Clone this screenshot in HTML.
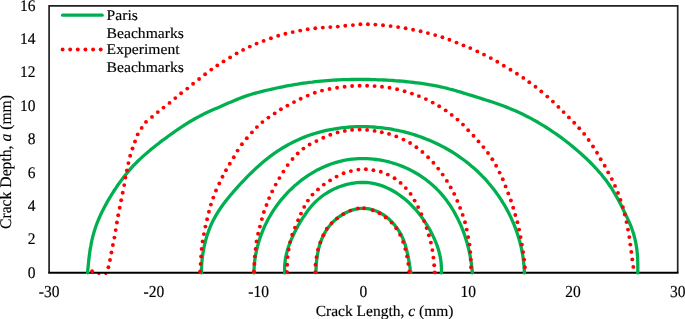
<!DOCTYPE html>
<html><head><meta charset="utf-8"><title>Crack beachmarks</title>
<style>
html,body{margin:0;padding:0;background:#fff;}
body{width:685px;height:319px;overflow:hidden;}
svg{display:block;}
text{font-family:"Liberation Serif","Times New Roman",serif;font-size:15.5px;fill:#000;stroke:#000;stroke-width:0.15px;text-rendering:geometricPrecision;}
</style></head><body>
<svg width="685" height="319" viewBox="0 0 685 319">
<rect width="685" height="319" fill="#fff"/>
<g fill="#ff0000">
<circle cx="98.9" cy="273.4" r="1.5"/>
<circle cx="105.8" cy="273.4" r="1.5"/>
</g>
<g fill="none" stroke="#222" stroke-width="1.6">
<path d="M49.1,272.85 L49.1,5.95 L677.7,5.95 L677.7,272.85" stroke-width="1.7"/>
<path d="M48.25,272.85 L678.5,272.85" stroke="#000" stroke-width="2.0"/>
</g>
<g fill="none" stroke="#00b050" stroke-width="3.3" stroke-linecap="round" stroke-linejoin="round">
<path d="M87.6,272.9 L87.8,269.9 L88.1,266.9 L88.4,264.0 L88.7,261.0 L89.0,258.0 L89.4,255.0 L89.8,252.0 L90.2,249.1 L90.8,246.1 L91.3,243.2 L91.9,240.2 L92.6,237.3 L93.4,234.4 L94.2,231.5 L95.1,228.7 L96.1,225.8 L97.1,223.0 L98.2,220.3 L99.4,217.5 L100.6,214.8 L101.9,212.1 L103.3,209.4 L104.6,206.8 L106.1,204.1 L107.5,201.5 L109.0,198.9 L110.6,196.4 L112.1,193.8 L113.7,191.3 L115.4,188.8 L117.0,186.3 L118.8,183.8 L120.5,181.4 L122.3,179.0 L124.1,176.6 L126.0,174.3 L127.9,172.0 L129.8,169.7 L131.8,167.4 L133.8,165.2 L135.9,163.1 L138.0,161.0 L140.2,158.9 L142.4,156.9 L144.6,154.9 L146.9,152.9 L149.2,151.0 L151.5,149.0 L153.8,147.2 L156.2,145.3 L158.6,143.5 L160.9,141.6 L163.3,139.8 L165.8,138.1 L168.2,136.3 L170.6,134.5 L173.0,132.8 L175.5,131.0 L178.0,129.3 L180.5,127.7 L183.0,126.0 L185.5,124.4 L188.0,122.8 L190.6,121.3 L193.2,119.8 L195.8,118.3 L198.4,116.9 L201.0,115.5 L203.7,114.1 L206.4,112.8 L209.1,111.5 L211.8,110.3 L214.6,109.1 L217.3,107.9 L220.1,106.7 L222.8,105.5 L225.6,104.3 L228.3,103.1 L231.1,101.9 L233.9,100.7 L236.6,99.6 L239.4,98.5 L242.2,97.4 L245.0,96.4 L247.8,95.4 L250.7,94.5 L253.5,93.7 L256.4,92.9 L259.3,92.2 L262.2,91.4 L265.1,90.7 L268.0,90.0 L271.0,89.3 L273.9,88.7 L276.8,88.0 L279.8,87.4 L282.7,86.8 L285.6,86.2 L288.6,85.7 L291.5,85.2 L294.5,84.6 L297.5,84.2 L300.4,83.7 L303.4,83.2 L306.4,82.8 L309.3,82.4 L312.3,82.1 L315.3,81.7 L318.3,81.4 L321.2,81.1 L324.2,80.8 L327.2,80.6 L330.2,80.4 L333.2,80.2 L336.2,80.0 L339.2,79.9 L342.2,79.7 L345.2,79.6 L348.1,79.6 L351.1,79.5 L354.1,79.5 L357.1,79.4 L360.1,79.4 L363.1,79.5 L366.1,79.5 L369.1,79.5 L372.1,79.6 L375.1,79.7 L378.1,79.8 L381.1,79.9 L384.1,80.0 L387.1,80.2 L390.1,80.4 L393.1,80.5 L396.1,80.8 L399.1,81.0 L402.1,81.2 L405.1,81.5 L408.0,81.8 L411.0,82.1 L414.0,82.5 L417.0,82.8 L419.9,83.2 L422.9,83.6 L425.9,84.1 L428.8,84.6 L431.8,85.1 L434.7,85.6 L437.6,86.2 L440.6,86.8 L443.5,87.5 L446.4,88.2 L449.3,89.0 L452.2,89.7 L455.1,90.5 L457.9,91.4 L460.8,92.2 L463.7,93.1 L466.6,94.0 L469.4,94.9 L472.3,95.7 L475.2,96.6 L478.1,97.5 L480.9,98.4 L483.8,99.3 L486.6,100.2 L489.5,101.1 L492.3,102.0 L495.2,103.0 L498.0,104.0 L500.8,105.0 L503.6,106.0 L506.4,107.1 L509.2,108.2 L512.0,109.4 L514.7,110.5 L517.5,111.8 L520.2,113.0 L522.9,114.3 L525.6,115.7 L528.2,117.0 L530.9,118.4 L533.5,119.9 L536.1,121.3 L538.7,122.8 L541.3,124.4 L543.9,125.9 L546.4,127.5 L549.0,129.1 L551.5,130.8 L553.9,132.5 L556.4,134.2 L558.8,135.9 L561.3,137.7 L563.7,139.5 L566.0,141.3 L568.4,143.1 L570.7,145.0 L573.1,146.9 L575.3,148.8 L577.6,150.8 L579.9,152.7 L582.1,154.7 L584.3,156.8 L586.5,158.8 L588.7,160.9 L590.8,163.0 L592.9,165.2 L595.0,167.3 L597.0,169.5 L599.0,171.8 L601.0,174.0 L602.9,176.4 L604.8,178.7 L606.6,181.1 L608.3,183.5 L610.0,186.0 L611.7,188.4 L613.2,191.0 L614.8,193.6 L616.3,196.2 L617.7,198.8 L619.1,201.4 L620.5,204.1 L621.9,206.8 L623.2,209.5 L624.5,212.2 L625.8,214.9 L627.1,217.6 L628.4,220.4 L629.6,223.1 L630.8,225.9 L631.8,228.7 L632.8,231.5 L633.7,234.3 L634.5,237.2 L635.2,240.1 L635.8,243.0 L636.3,246.0 L636.8,248.9 L637.1,251.9 L637.4,254.9 L637.6,257.9 L637.7,260.9 L637.8,263.9 L637.8,266.9 L637.8,269.9 L637.8,272.9"/>
<path d="M201.4,272.9 L201.4,269.9 L201.6,266.9 L201.7,263.9 L202.0,260.9 L202.3,257.9 L202.7,254.9 L203.2,252.0 L203.7,249.0 L204.3,246.0 L205.0,243.1 L205.7,240.2 L206.5,237.3 L207.4,234.5 L208.4,231.7 L209.4,228.9 L210.5,226.1 L211.7,223.4 L213.0,220.8 L214.4,218.2 L215.8,215.6 L217.3,213.1 L218.9,210.6 L220.5,208.2 L222.2,205.8 L223.9,203.4 L225.7,201.1 L227.6,198.8 L229.4,196.5 L231.4,194.2 L233.3,191.9 L235.3,189.7 L237.3,187.4 L239.3,185.2 L241.3,183.0 L243.4,180.8 L245.5,178.6 L247.6,176.4 L249.7,174.3 L251.9,172.2 L254.1,170.1 L256.3,168.0 L258.6,166.0 L260.8,164.0 L263.1,162.1 L265.5,160.1 L267.8,158.3 L270.2,156.4 L272.6,154.6 L275.0,152.9 L277.5,151.2 L280.0,149.6 L282.5,148.0 L285.1,146.5 L287.7,145.0 L290.3,143.6 L292.9,142.2 L295.6,140.9 L298.3,139.7 L301.0,138.5 L303.7,137.4 L306.5,136.3 L309.2,135.3 L312.0,134.4 L314.9,133.5 L317.7,132.6 L320.6,131.8 L323.4,131.1 L326.3,130.4 L329.2,129.8 L332.1,129.3 L335.0,128.8 L338.0,128.3 L340.9,127.9 L343.9,127.6 L346.8,127.3 L349.8,127.0 L352.8,126.8 L355.8,126.7 L358.7,126.6 L361.7,126.6 L364.7,126.6 L367.7,126.7 L370.7,126.8 L373.7,127.0 L376.7,127.3 L379.6,127.6 L382.6,127.9 L385.6,128.3 L388.5,128.7 L391.5,129.2 L394.4,129.8 L397.4,130.3 L400.3,131.0 L403.2,131.7 L406.1,132.4 L409.0,133.2 L411.9,134.0 L414.8,134.9 L417.6,135.9 L420.4,136.8 L423.2,137.9 L426.0,139.0 L428.8,140.1 L431.6,141.3 L434.3,142.5 L437.0,143.8 L439.7,145.1 L442.3,146.4 L444.9,147.8 L447.5,149.3 L450.1,150.8 L452.7,152.3 L455.2,153.9 L457.7,155.6 L460.1,157.3 L462.5,159.0 L464.9,160.8 L467.3,162.6 L469.6,164.5 L471.9,166.4 L474.1,168.3 L476.3,170.3 L478.5,172.3 L480.6,174.4 L482.7,176.6 L484.8,178.7 L486.8,180.9 L488.7,183.2 L490.6,185.4 L492.5,187.8 L494.3,190.1 L496.1,192.5 L497.8,194.9 L499.5,197.4 L501.2,199.9 L502.7,202.4 L504.3,204.9 L505.8,207.5 L507.2,210.1 L508.6,212.7 L509.9,215.4 L511.2,218.1 L512.4,220.8 L513.6,223.5 L514.7,226.3 L515.8,229.1 L516.8,231.9 L517.7,234.7 L518.6,237.6 L519.4,240.4 L520.2,243.3 L520.9,246.2 L521.6,249.1 L522.1,252.0 L522.7,255.0 L523.1,257.9 L523.5,260.9 L523.8,263.9 L524.1,266.9 L524.3,269.9 L524.4,272.9"/>
<path d="M253.9,272.9 L254.0,269.9 L254.2,266.9 L254.4,264.0 L254.7,261.0 L255.1,258.1 L255.6,255.1 L256.2,252.2 L256.8,249.3 L257.5,246.4 L258.3,243.6 L259.1,240.7 L260.0,237.9 L261.0,235.1 L262.1,232.3 L263.2,229.6 L264.4,226.8 L265.7,224.1 L267.0,221.5 L268.4,218.8 L269.9,216.2 L271.4,213.7 L273.0,211.1 L274.6,208.6 L276.3,206.2 L278.1,203.8 L279.9,201.4 L281.8,199.1 L283.8,196.8 L285.8,194.6 L287.8,192.4 L290.0,190.2 L292.1,188.2 L294.3,186.1 L296.6,184.2 L298.9,182.2 L301.2,180.4 L303.6,178.6 L306.1,176.9 L308.6,175.2 L311.1,173.6 L313.6,172.1 L316.2,170.6 L318.9,169.3 L321.5,168.0 L324.2,166.7 L326.9,165.6 L329.7,164.5 L332.5,163.5 L335.3,162.6 L338.1,161.8 L341.0,161.1 L343.9,160.4 L346.7,159.9 L349.7,159.4 L352.6,159.1 L355.5,158.8 L358.5,158.6 L361.5,158.6 L364.4,158.6 L367.4,158.7 L370.4,158.8 L373.3,159.1 L376.3,159.5 L379.3,159.9 L382.2,160.4 L385.1,161.0 L388.1,161.7 L391.0,162.5 L393.8,163.3 L396.7,164.3 L399.5,165.3 L402.3,166.4 L405.1,167.5 L407.8,168.8 L410.5,170.1 L413.2,171.5 L415.8,173.0 L418.4,174.5 L420.9,176.1 L423.4,177.8 L425.8,179.5 L428.1,181.4 L430.4,183.2 L432.7,185.2 L434.9,187.2 L437.0,189.3 L439.1,191.4 L441.1,193.6 L443.0,195.9 L444.9,198.2 L446.7,200.6 L448.4,203.0 L450.1,205.4 L451.7,207.9 L453.3,210.5 L454.8,213.1 L456.2,215.7 L457.6,218.4 L458.9,221.1 L460.2,223.8 L461.4,226.5 L462.5,229.3 L463.6,232.1 L464.6,235.0 L465.5,237.8 L466.4,240.7 L467.3,243.6 L468.0,246.5 L468.8,249.4 L469.4,252.3 L470.0,255.3 L470.5,258.2 L471.0,261.2 L471.4,264.1 L471.8,267.0 L472.1,270.0 L472.3,272.9"/>
<path d="M284.7,272.9 L284.6,269.8 L284.6,266.8 L284.8,263.8 L285.2,260.8 L285.6,257.9 L286.2,255.0 L286.9,252.1 L287.7,249.3 L288.6,246.5 L289.6,243.7 L290.7,240.9 L291.9,238.2 L293.1,235.5 L294.4,232.8 L295.8,230.1 L297.2,227.4 L298.6,224.8 L300.2,222.2 L301.7,219.7 L303.3,217.2 L305.0,214.7 L306.7,212.2 L308.5,209.8 L310.3,207.5 L312.3,205.2 L314.3,203.0 L316.5,200.9 L318.7,198.9 L321.0,197.0 L323.4,195.2 L325.9,193.6 L328.5,192.0 L331.1,190.5 L333.8,189.1 L336.6,187.9 L339.4,186.8 L342.2,185.8 L345.1,184.9 L348.0,184.2 L350.9,183.5 L353.8,183.1 L356.8,182.7 L359.7,182.5 L362.7,182.4 L365.6,182.5 L368.6,182.7 L371.5,183.1 L374.4,183.7 L377.2,184.3 L380.1,185.2 L382.9,186.1 L385.6,187.2 L388.3,188.5 L391.0,189.8 L393.6,191.3 L396.2,192.8 L398.7,194.5 L401.2,196.3 L403.6,198.1 L405.9,200.0 L408.2,202.0 L410.4,204.1 L412.5,206.3 L414.6,208.5 L416.6,210.7 L418.5,213.0 L420.3,215.3 L422.1,217.7 L423.7,220.1 L425.4,222.6 L427.0,225.1 L428.5,227.6 L430.0,230.1 L431.4,232.7 L432.7,235.4 L434.0,238.1 L435.2,240.8 L436.3,243.5 L437.4,246.4 L438.3,249.2 L439.1,252.1 L439.8,255.0 L440.4,257.9 L440.9,260.9 L441.2,263.9 L441.4,266.9 L441.5,269.9 L441.4,272.9"/>
<path d="M316.0,272.5 L316.0,269.6 L316.2,266.7 L316.3,263.7 L316.6,260.8 L317.0,257.8 L317.4,254.8 L318.0,251.8 L318.6,248.9 L319.4,245.9 L320.3,243.1 L321.3,240.2 L322.5,237.4 L323.8,234.7 L325.2,232.1 L326.8,229.5 L328.6,227.0 L330.5,224.7 L332.6,222.4 L334.8,220.3 L337.1,218.3 L339.5,216.5 L342.1,214.8 L344.7,213.3 L347.3,212.0 L350.1,210.8 L352.9,209.9 L355.7,209.1 L358.5,208.6 L361.4,208.4 L364.2,208.3 L367.1,208.6 L369.9,209.0 L372.6,209.8 L375.4,210.7 L378.0,211.8 L380.6,213.2 L383.2,214.7 L385.6,216.4 L388.0,218.3 L390.2,220.3 L392.4,222.5 L394.4,224.8 L396.3,227.2 L398.1,229.7 L399.7,232.3 L401.2,234.9 L402.5,237.7 L403.7,240.5 L404.7,243.3 L405.6,246.2 L406.4,249.1 L407.1,252.1 L407.8,255.0 L408.4,258.0 L408.9,260.9 L409.4,263.9 L409.9,266.8 L410.3,269.7 L410.8,272.5"/>
</g>
<g fill="#ff0000">
<circle cx="92.1" cy="271.2" r="1.95"/>
<circle cx="108.4" cy="267.3" r="1.95"/>
<circle cx="110.0" cy="260.0" r="1.95"/>
<circle cx="111.4" cy="252.5" r="1.95"/>
<circle cx="112.9" cy="245.0" r="1.95"/>
<circle cx="114.4" cy="237.6" r="1.95"/>
<circle cx="115.7" cy="230.1" r="1.95"/>
<circle cx="116.9" cy="222.5" r="1.95"/>
<circle cx="118.2" cy="215.3" r="1.95"/>
<circle cx="119.7" cy="207.8" r="1.95"/>
<circle cx="121.2" cy="200.3" r="1.95"/>
<circle cx="122.7" cy="192.7" r="1.95"/>
<circle cx="124.2" cy="185.1" r="1.95"/>
<circle cx="125.4" cy="177.6" r="1.95"/>
<circle cx="126.9" cy="170.4" r="1.95"/>
<circle cx="128.4" cy="163.1" r="1.95"/>
<circle cx="130.2" cy="155.8" r="1.95"/>
<circle cx="132.5" cy="148.5" r="1.95"/>
<circle cx="135.0" cy="141.5" r="1.95"/>
<circle cx="137.7" cy="134.4" r="1.95"/>
<circle cx="141.7" cy="127.9" r="1.95"/>
<circle cx="146.0" cy="121.9" r="1.95"/>
<circle cx="152.0" cy="116.9" r="1.95"/>
<circle cx="157.8" cy="112.1" r="1.95"/>
<circle cx="163.5" cy="107.6" r="1.95"/>
<circle cx="169.5" cy="102.9" r="1.95"/>
<circle cx="175.3" cy="98.1" r="1.95"/>
<circle cx="181.1" cy="93.3" r="1.95"/>
<circle cx="187.3" cy="88.6" r="1.95"/>
<circle cx="193.1" cy="83.8" r="1.95"/>
<circle cx="199.1" cy="79.0" r="1.95"/>
<circle cx="205.1" cy="74.3" r="1.95"/>
<circle cx="211.3" cy="69.6" r="1.95"/>
<circle cx="217.3" cy="65.4" r="1.95"/>
<circle cx="223.5" cy="61.4" r="1.95"/>
<circle cx="230.1" cy="57.4" r="1.95"/>
<circle cx="236.6" cy="53.4" r="1.95"/>
<circle cx="243.1" cy="49.9" r="1.95"/>
<circle cx="249.8" cy="46.6" r="1.95"/>
<circle cx="256.6" cy="43.6" r="1.95"/>
<circle cx="263.6" cy="40.9" r="1.95"/>
<circle cx="270.9" cy="38.3" r="1.95"/>
<circle cx="278.2" cy="35.8" r="1.95"/>
<circle cx="285.4" cy="33.8" r="1.95"/>
<circle cx="292.7" cy="32.1" r="1.95"/>
<circle cx="300.2" cy="30.6" r="1.95"/>
<circle cx="307.7" cy="29.3" r="1.95"/>
<circle cx="315.3" cy="28.3" r="1.95"/>
<circle cx="322.8" cy="27.6" r="1.95"/>
<circle cx="330.3" cy="27.1" r="1.95"/>
<circle cx="337.8" cy="26.6" r="1.95"/>
<circle cx="345.3" cy="25.8" r="1.95"/>
<circle cx="352.9" cy="25.1" r="1.95"/>
<circle cx="360.4" cy="24.3" r="1.95"/>
<circle cx="367.9" cy="24.3" r="1.95"/>
<circle cx="375.4" cy="24.6" r="1.95"/>
<circle cx="383.0" cy="25.3" r="1.95"/>
<circle cx="390.6" cy="26.1" r="1.95"/>
<circle cx="398.1" cy="27.1" r="1.95"/>
<circle cx="405.6" cy="28.3" r="1.95"/>
<circle cx="413.1" cy="29.8" r="1.95"/>
<circle cx="420.6" cy="31.3" r="1.95"/>
<circle cx="427.9" cy="33.1" r="1.95"/>
<circle cx="435.2" cy="35.1" r="1.95"/>
<circle cx="442.4" cy="37.3" r="1.95"/>
<circle cx="449.4" cy="39.8" r="1.95"/>
<circle cx="456.5" cy="42.6" r="1.95"/>
<circle cx="463.5" cy="45.4" r="1.95"/>
<circle cx="470.3" cy="48.1" r="1.95"/>
<circle cx="477.3" cy="51.4" r="1.95"/>
<circle cx="484.0" cy="54.6" r="1.95"/>
<circle cx="490.8" cy="58.1" r="1.95"/>
<circle cx="497.3" cy="61.7" r="1.95"/>
<circle cx="503.8" cy="65.7" r="1.95"/>
<circle cx="510.5" cy="69.7" r="1.95"/>
<circle cx="516.9" cy="73.7" r="1.95"/>
<circle cx="523.3" cy="77.9" r="1.95"/>
<circle cx="529.3" cy="82.2" r="1.95"/>
<circle cx="535.5" cy="86.8" r="1.95"/>
<circle cx="541.3" cy="91.5" r="1.95"/>
<circle cx="547.3" cy="96.6" r="1.95"/>
<circle cx="552.9" cy="101.6" r="1.95"/>
<circle cx="558.4" cy="106.9" r="1.95"/>
<circle cx="563.6" cy="112.1" r="1.95"/>
<circle cx="568.9" cy="117.4" r="1.95"/>
<circle cx="574.2" cy="122.7" r="1.95"/>
<circle cx="579.2" cy="128.2" r="1.95"/>
<circle cx="584.2" cy="133.9" r="1.95"/>
<circle cx="588.7" cy="140.0" r="1.95"/>
<circle cx="593.0" cy="146.5" r="1.95"/>
<circle cx="597.0" cy="152.8" r="1.95"/>
<circle cx="600.7" cy="159.3" r="1.95"/>
<circle cx="604.7" cy="165.8" r="1.95"/>
<circle cx="608.2" cy="172.4" r="1.95"/>
<circle cx="611.8" cy="179.1" r="1.95"/>
<circle cx="615.0" cy="185.9" r="1.95"/>
<circle cx="618.0" cy="192.9" r="1.95"/>
<circle cx="620.5" cy="199.9" r="1.95"/>
<circle cx="622.9" cy="207.1" r="1.95"/>
<circle cx="624.8" cy="214.5" r="1.95"/>
<circle cx="626.5" cy="222.1" r="1.95"/>
<circle cx="628.0" cy="229.6" r="1.95"/>
<circle cx="629.3" cy="237.1" r="1.95"/>
<circle cx="630.3" cy="244.6" r="1.95"/>
<circle cx="631.3" cy="251.9" r="1.95"/>
<circle cx="632.3" cy="259.4" r="1.95"/>
<circle cx="633.3" cy="266.9" r="1.95"/>
<circle cx="200.1" cy="271.4" r="1.95"/>
<circle cx="200.6" cy="263.9" r="1.95"/>
<circle cx="201.1" cy="256.4" r="1.95"/>
<circle cx="201.6" cy="248.9" r="1.95"/>
<circle cx="202.6" cy="241.4" r="1.95"/>
<circle cx="203.9" cy="234.1" r="1.95"/>
<circle cx="205.4" cy="226.6" r="1.95"/>
<circle cx="207.1" cy="219.3" r="1.95"/>
<circle cx="208.9" cy="211.8" r="1.95"/>
<circle cx="210.9" cy="204.6" r="1.95"/>
<circle cx="213.3" cy="197.6" r="1.95"/>
<circle cx="216.0" cy="190.5" r="1.95"/>
<circle cx="219.3" cy="183.5" r="1.95"/>
<circle cx="222.5" cy="176.7" r="1.95"/>
<circle cx="226.0" cy="170.3" r="1.95"/>
<circle cx="229.8" cy="163.8" r="1.95"/>
<circle cx="233.8" cy="157.3" r="1.95"/>
<circle cx="237.6" cy="150.6" r="1.95"/>
<circle cx="241.9" cy="144.3" r="1.95"/>
<circle cx="246.8" cy="138.2" r="1.95"/>
<circle cx="251.9" cy="132.4" r="1.95"/>
<circle cx="256.9" cy="127.1" r="1.95"/>
<circle cx="262.4" cy="122.1" r="1.95"/>
<circle cx="268.4" cy="117.6" r="1.95"/>
<circle cx="274.7" cy="113.4" r="1.95"/>
<circle cx="280.9" cy="109.3" r="1.95"/>
<circle cx="287.4" cy="105.6" r="1.95"/>
<circle cx="294.0" cy="102.1" r="1.95"/>
<circle cx="300.7" cy="98.8" r="1.95"/>
<circle cx="307.7" cy="95.6" r="1.95"/>
<circle cx="314.8" cy="92.8" r="1.95"/>
<circle cx="322.0" cy="90.6" r="1.95"/>
<circle cx="329.5" cy="89.0" r="1.95"/>
<circle cx="337.1" cy="87.8" r="1.95"/>
<circle cx="344.6" cy="86.8" r="1.95"/>
<circle cx="352.1" cy="86.0" r="1.95"/>
<circle cx="359.6" cy="85.8" r="1.95"/>
<circle cx="367.1" cy="85.8" r="1.95"/>
<circle cx="374.6" cy="86.1" r="1.95"/>
<circle cx="382.0" cy="86.8" r="1.95"/>
<circle cx="389.5" cy="87.8" r="1.95"/>
<circle cx="397.1" cy="89.3" r="1.95"/>
<circle cx="404.6" cy="91.3" r="1.95"/>
<circle cx="411.9" cy="93.6" r="1.95"/>
<circle cx="418.9" cy="96.1" r="1.95"/>
<circle cx="425.9" cy="99.1" r="1.95"/>
<circle cx="432.7" cy="102.6" r="1.95"/>
<circle cx="439.2" cy="106.3" r="1.95"/>
<circle cx="445.7" cy="110.4" r="1.95"/>
<circle cx="451.7" cy="114.9" r="1.95"/>
<circle cx="457.5" cy="119.6" r="1.95"/>
<circle cx="463.0" cy="124.6" r="1.95"/>
<circle cx="468.2" cy="130.2" r="1.95"/>
<circle cx="473.5" cy="135.7" r="1.95"/>
<circle cx="478.5" cy="141.4" r="1.95"/>
<circle cx="483.4" cy="147.1" r="1.95"/>
<circle cx="488.0" cy="153.0" r="1.95"/>
<circle cx="492.3" cy="159.3" r="1.95"/>
<circle cx="496.1" cy="165.8" r="1.95"/>
<circle cx="499.6" cy="172.6" r="1.95"/>
<circle cx="502.8" cy="179.3" r="1.95"/>
<circle cx="505.6" cy="186.4" r="1.95"/>
<circle cx="508.3" cy="193.4" r="1.95"/>
<circle cx="510.9" cy="200.5" r="1.95"/>
<circle cx="513.2" cy="207.7" r="1.95"/>
<circle cx="515.3" cy="215.0" r="1.95"/>
<circle cx="517.4" cy="222.3" r="1.95"/>
<circle cx="519.1" cy="229.6" r="1.95"/>
<circle cx="520.6" cy="237.1" r="1.95"/>
<circle cx="521.9" cy="244.6" r="1.95"/>
<circle cx="523.1" cy="252.1" r="1.95"/>
<circle cx="524.1" cy="259.6" r="1.95"/>
<circle cx="524.9" cy="267.2" r="1.95"/>
<circle cx="253.9" cy="271.4" r="1.95"/>
<circle cx="254.4" cy="263.9" r="1.95"/>
<circle cx="254.9" cy="256.4" r="1.95"/>
<circle cx="255.6" cy="248.9" r="1.95"/>
<circle cx="256.6" cy="241.4" r="1.95"/>
<circle cx="258.1" cy="233.8" r="1.95"/>
<circle cx="259.9" cy="226.6" r="1.95"/>
<circle cx="261.9" cy="219.1" r="1.95"/>
<circle cx="263.9" cy="212.0" r="1.95"/>
<circle cx="266.5" cy="205.0" r="1.95"/>
<circle cx="269.1" cy="198.1" r="1.95"/>
<circle cx="272.2" cy="191.4" r="1.95"/>
<circle cx="275.7" cy="184.6" r="1.95"/>
<circle cx="279.4" cy="178.1" r="1.95"/>
<circle cx="283.4" cy="171.6" r="1.95"/>
<circle cx="287.7" cy="165.1" r="1.95"/>
<circle cx="292.5" cy="159.0" r="1.95"/>
<circle cx="297.7" cy="153.5" r="1.95"/>
<circle cx="303.4" cy="148.6" r="1.95"/>
<circle cx="309.6" cy="144.5" r="1.95"/>
<circle cx="316.4" cy="141.1" r="1.95"/>
<circle cx="323.3" cy="137.7" r="1.95"/>
<circle cx="330.3" cy="134.7" r="1.95"/>
<circle cx="337.6" cy="132.4" r="1.95"/>
<circle cx="344.8" cy="130.9" r="1.95"/>
<circle cx="352.1" cy="129.9" r="1.95"/>
<circle cx="359.6" cy="129.6" r="1.95"/>
<circle cx="367.1" cy="129.9" r="1.95"/>
<circle cx="374.6" cy="130.9" r="1.95"/>
<circle cx="381.8" cy="132.2" r="1.95"/>
<circle cx="389.0" cy="133.9" r="1.95"/>
<circle cx="396.3" cy="136.4" r="1.95"/>
<circle cx="403.5" cy="139.6" r="1.95"/>
<circle cx="410.1" cy="143.0" r="1.95"/>
<circle cx="416.4" cy="147.3" r="1.95"/>
<circle cx="422.4" cy="152.0" r="1.95"/>
<circle cx="428.1" cy="157.3" r="1.95"/>
<circle cx="433.4" cy="162.8" r="1.95"/>
<circle cx="438.2" cy="168.6" r="1.95"/>
<circle cx="442.7" cy="174.6" r="1.95"/>
<circle cx="446.9" cy="180.9" r="1.95"/>
<circle cx="450.7" cy="187.4" r="1.95"/>
<circle cx="454.2" cy="193.9" r="1.95"/>
<circle cx="457.3" cy="200.9" r="1.95"/>
<circle cx="460.1" cy="207.9" r="1.95"/>
<circle cx="462.7" cy="214.9" r="1.95"/>
<circle cx="465.0" cy="222.3" r="1.95"/>
<circle cx="466.7" cy="229.6" r="1.95"/>
<circle cx="468.2" cy="237.1" r="1.95"/>
<circle cx="469.5" cy="244.6" r="1.95"/>
<circle cx="470.3" cy="252.1" r="1.95"/>
<circle cx="470.8" cy="259.6" r="1.95"/>
<circle cx="471.0" cy="267.2" r="1.95"/>
<circle cx="286.9" cy="271.9" r="1.95"/>
<circle cx="287.2" cy="264.7" r="1.95"/>
<circle cx="287.7" cy="257.1" r="1.95"/>
<circle cx="288.7" cy="249.6" r="1.95"/>
<circle cx="290.2" cy="242.1" r="1.95"/>
<circle cx="292.2" cy="234.8" r="1.95"/>
<circle cx="295.0" cy="227.6" r="1.95"/>
<circle cx="298.1" cy="220.3" r="1.95"/>
<circle cx="301.0" cy="213.6" r="1.95"/>
<circle cx="304.2" cy="206.9" r="1.95"/>
<circle cx="307.9" cy="200.6" r="1.95"/>
<circle cx="312.5" cy="194.6" r="1.95"/>
<circle cx="318.0" cy="189.4" r="1.95"/>
<circle cx="323.8" cy="184.6" r="1.95"/>
<circle cx="330.1" cy="180.4" r="1.95"/>
<circle cx="336.6" cy="176.6" r="1.95"/>
<circle cx="343.6" cy="173.3" r="1.95"/>
<circle cx="350.9" cy="171.1" r="1.95"/>
<circle cx="358.4" cy="169.6" r="1.95"/>
<circle cx="365.9" cy="169.3" r="1.95"/>
<circle cx="373.4" cy="170.3" r="1.95"/>
<circle cx="380.8" cy="171.8" r="1.95"/>
<circle cx="387.8" cy="174.6" r="1.95"/>
<circle cx="394.6" cy="178.3" r="1.95"/>
<circle cx="400.6" cy="182.9" r="1.95"/>
<circle cx="405.8" cy="188.1" r="1.95"/>
<circle cx="410.6" cy="193.9" r="1.95"/>
<circle cx="414.6" cy="200.6" r="1.95"/>
<circle cx="418.1" cy="207.1" r="1.95"/>
<circle cx="421.4" cy="214.1" r="1.95"/>
<circle cx="424.1" cy="221.1" r="1.95"/>
<circle cx="426.6" cy="228.1" r="1.95"/>
<circle cx="428.9" cy="235.3" r="1.95"/>
<circle cx="430.9" cy="242.6" r="1.95"/>
<circle cx="432.4" cy="250.1" r="1.95"/>
<circle cx="433.4" cy="257.6" r="1.95"/>
<circle cx="434.2" cy="265.2" r="1.95"/>
<circle cx="434.7" cy="272.4" r="1.95"/>
<circle cx="315.3" cy="272.2" r="1.95"/>
<circle cx="315.5" cy="264.7" r="1.95"/>
<circle cx="316.5" cy="257.1" r="1.95"/>
<circle cx="318.0" cy="249.6" r="1.95"/>
<circle cx="320.3" cy="242.4" r="1.95"/>
<circle cx="323.3" cy="235.3" r="1.95"/>
<circle cx="326.8" cy="228.8" r="1.95"/>
<circle cx="331.6" cy="223.1" r="1.95"/>
<circle cx="337.0" cy="218.4" r="1.95"/>
<circle cx="343.2" cy="214.2" r="1.95"/>
<circle cx="350.4" cy="210.6" r="1.95"/>
<circle cx="357.9" cy="208.4" r="1.95"/>
<circle cx="364.1" cy="208.2" r="1.95"/>
<circle cx="372.7" cy="210.2" r="1.95"/>
<circle cx="379.5" cy="213.3" r="1.95"/>
<circle cx="385.7" cy="217.4" r="1.95"/>
<circle cx="391.6" cy="222.6" r="1.95"/>
<circle cx="396.3" cy="228.3" r="1.95"/>
<circle cx="400.1" cy="234.8" r="1.95"/>
<circle cx="403.1" cy="241.9" r="1.95"/>
<circle cx="405.3" cy="249.1" r="1.95"/>
<circle cx="407.1" cy="256.4" r="1.95"/>
<circle cx="408.3" cy="263.9" r="1.95"/>
<circle cx="409.3" cy="271.4" r="1.95"/>
</g>
<g>
<path d="M62.6,15.15 L102.2,15.15" stroke="#00b050" stroke-width="3.2" stroke-linecap="round" fill="none"/>
<g fill="#ff0000">
<circle cx="62.6" cy="49.55" r="1.95"/><circle cx="70.2" cy="49.55" r="1.95"/><circle cx="77.8" cy="49.55" r="1.95"/><circle cx="85.4" cy="49.55" r="1.95"/><circle cx="93.1" cy="49.55" r="1.95"/><circle cx="100.7" cy="49.55" r="1.95"/>
</g>
<text transform="translate(106.6,19.6) scale(1.009,0.96)">Paris</text>
<text transform="translate(106.6,37.8) scale(1.009,0.96)">Beachmarks</text>
<text transform="translate(106.6,54.0) scale(1.009,0.96)">Experiment</text>
<text transform="translate(106.6,72.2) scale(1.009,0.96)">Beachmarks</text>
</g>
<g>
<text transform="translate(35.5,277.6) scale(1,1.05)" text-anchor="end">0</text>
<text transform="translate(35.5,244.2) scale(1,1.05)" text-anchor="end">2</text>
<text transform="translate(35.5,210.8) scale(1,1.05)" text-anchor="end">4</text>
<text transform="translate(35.5,177.5) scale(1,1.05)" text-anchor="end">6</text>
<text transform="translate(35.5,144.1) scale(1,1.05)" text-anchor="end">8</text>
<text transform="translate(35.5,110.7) scale(1,1.05)" text-anchor="end">10</text>
<text transform="translate(35.5,77.4) scale(1,1.05)" text-anchor="end">12</text>
<text transform="translate(35.5,44.0) scale(1,1.05)" text-anchor="end">14</text>
<text transform="translate(35.5,10.6) scale(1,1.05)" text-anchor="end">16</text>
</g>
<g>
<text transform="translate(49.1,296.5) scale(1,1.08)" text-anchor="middle">-30</text>
<text transform="translate(153.9,296.5) scale(1,1.08)" text-anchor="middle">-20</text>
<text transform="translate(258.6,296.5) scale(1,1.08)" text-anchor="middle">-10</text>
<text transform="translate(363.4,296.5) scale(1,1.08)" text-anchor="middle">0</text>
<text transform="translate(468.2,296.5) scale(1,1.08)" text-anchor="middle">10</text>
<text transform="translate(572.9,296.5) scale(1,1.08)" text-anchor="middle">20</text>
<text transform="translate(677.7,296.5) scale(1,1.08)" text-anchor="middle">30</text>
</g>
<text transform="translate(384.6,315.7) scale(1,1.0)" text-anchor="middle">Crack Length, <tspan font-style="italic">c</tspan> (mm)</text>
<text transform="translate(11.2,162.0) rotate(-90) scale(1.011,1.045)" text-anchor="middle">Crack Depth, <tspan font-style="italic">a</tspan> (mm)</text>
</svg>
</body></html>
